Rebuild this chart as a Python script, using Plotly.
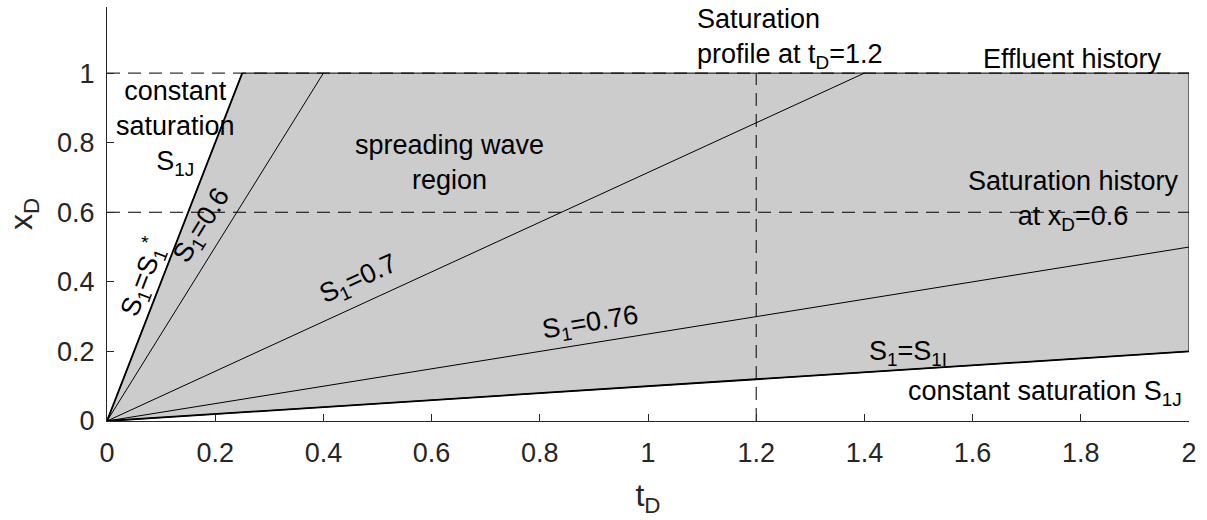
import math
import plotly.graph_objects as go

# ---- data ----
fan_labels = ["S<sub>1</sub>=S<sub>1</sub><sup>*</sup>", "S<sub>1</sub>=0.6", "S<sub>1</sub>=0.7",
              "S<sub>1</sub>=0.76", "S<sub>1</sub>=S<sub>1I</sub>"]
fan_t_end = [0.25, 0.4, 1.4, 2.0, 2.0]
fan_x_end = [1.0, 1.0, 1.0, 0.5, 0.2]
fan_widths = [1.8, 1.0, 1.0, 1.0, 1.8]
fan_label_t = [0.066, 0.177, 0.466, 0.893, 1.48]
fan_label_x = [0.414, 0.56, 0.405, 0.28, 0.195]
fan_label_rotate = [True, True, True, True, False]

region_t = [0, 0.25, 2, 2, 0]
region_x = [0, 1, 1, 0.2, 0]

hdash_x = [1.0, 0.6]
vdash_t = [1.2]

x_ticks = [0, 0.2, 0.4, 0.6, 0.8, 1, 1.2, 1.4, 1.6, 1.8, 2]
x_ticktext = ["0", "0.2", "0.4", "0.6", "0.8", "1", "1.2", "1.4", "1.6", "1.8", "2"]
y_ticks = [0, 0.2, 0.4, 0.6, 0.8, 1]
y_ticktext = ["0", "0.2", "0.4", "0.6", "0.8", "1"]

W, H = 1207, 520
ML, MR, MT, MB = 107, 18, 7, 99
XR = [0, 2]
YR = [0, 1.19]
PW, PH = W - ML - MR, H - MT - MB

FONT = "Liberation Sans, Arial, sans-serif"
FS = 27

fig = go.Figure()
fig.add_trace(go.Scatter(x=region_t, y=region_x, mode="lines", fill="toself",
                         fillcolor="#cccccc", line=dict(color="black", width=1),
                         hoverinfo="skip", showlegend=False))
for hx in hdash_x:
    fig.add_trace(go.Scatter(x=[XR[0], XR[1]], y=[hx, hx], mode="lines",
                             line=dict(color="black", width=1, dash="13px,8px"),
                             showlegend=False, hoverinfo="skip"))
for vt in vdash_t:
    fig.add_trace(go.Scatter(x=[vt, vt], y=[0, 1], mode="lines",
                             line=dict(color="black", width=1, dash="13px,8px"),
                             showlegend=False, hoverinfo="skip"))
for te, xe, w in zip(fan_t_end, fan_x_end, fan_widths):
    fig.add_trace(go.Scatter(x=[0, te], y=[0, xe], mode="lines",
                             line=dict(color="black", width=w),
                             showlegend=False, hoverinfo="skip"))

ann = []
for lab, lt, lx, te, xe, rot in zip(fan_labels, fan_label_t, fan_label_x, fan_t_end, fan_x_end, fan_label_rotate):
    ang = 0
    if rot:
        dxp = te / (XR[1] - XR[0]) * PW
        dyp = xe / (YR[1] - YR[0]) * PH
        ang = -math.degrees(math.atan2(dyp, dxp))
    ann.append(dict(x=lt, y=lx, text=lab, textangle=ang, showarrow=False,
                    font=dict(family=FONT, size=FS, color="black")))

texts = [
    (0.126, 0.842, "constant<br>saturation<br>S<sub>1J</sub>", "center", "center"),
    (0.634, 0.744, "spreading wave<br>region", "center", "center"),
    (1.087, 1.1, "Saturation<br>profile at t<sub>D</sub>=1.2", "left", "left"),
    (1.785, 1.04, "Effluent history", "center", "center"),
    (1.787, 0.635, "Saturation history<br>at x<sub>D</sub>=0.6", "center", "center"),
    (1.99, 0.08, "constant saturation S<sub>1J</sub>", "right", "right"),
]
for tx, ty, tt, xa, al in texts:
    ann.append(dict(x=tx, y=ty, text=tt, showarrow=False, xanchor=xa, align=al,
                    font=dict(family=FONT, size=FS, color="black")))

fig.update_layout(
    width=W, height=H,
    margin=dict(l=ML, r=MR, t=MT, b=MB),
    plot_bgcolor="white", paper_bgcolor="white",
    annotations=ann,
    font=dict(family=FONT, size=FS, color="#262626"),
)
fig.update_xaxes(range=XR, tickvals=x_ticks, ticktext=x_ticktext, ticks="inside", ticklen=7,
                 tickcolor="#262626", showline=True, linecolor="#262626", linewidth=1,
                 showgrid=False, zeroline=False, ticklabelstandoff=8,
                 title=dict(text="t<sub>D</sub>", standoff=16),
                 tickfont=dict(size=FS))
fig.update_yaxes(range=YR, tickvals=y_ticks, ticktext=y_ticktext, ticks="inside", ticklen=7,
                 tickcolor="#262626", showline=True, linecolor="#262626", linewidth=1,
                 showgrid=False, zeroline=False, ticklabelstandoff=6,
                 title=dict(text="x<sub>D</sub>", standoff=14),
                 tickfont=dict(size=FS))

fig.write_html("out.html")
